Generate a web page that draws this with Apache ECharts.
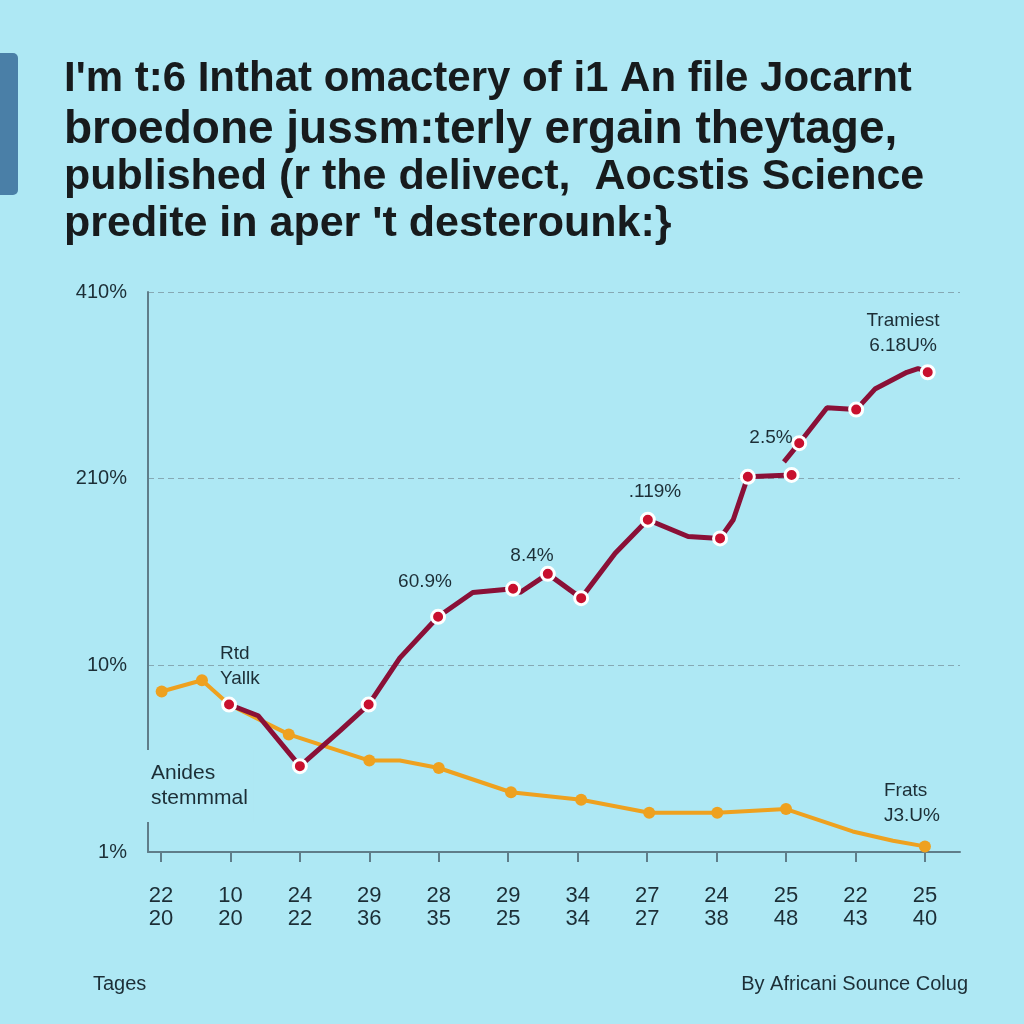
<!DOCTYPE html>
<html>
<head>
<meta charset="utf-8">
<script src="https://cdn.jsdelivr.net/npm/echarts@6/dist/echarts.min.js"></script>
<style>
html,body{margin:0;padding:0;background:#aee8f4;}
#chart{width:1024px;height:1024px;}
</style>
</head>
<body>
<div id="chart"></div>
<script>
// ---- data ----
const titleLines = [
  "I'm t:6 Inthat omactery of i1 An file Jocarnt",
  "broedone jussm:terly ergain theytage,",
  "published (r the delivect,  Aocstis Science",
  "predite in aper 't desterounk:}"
];
const xTopLabels = ["22","10","24","29","28","29","34","27","24","25","22","25"];
const xBottomLabels = ["20","20","22","36","35","25","34","27","38","48","43","40"];
const yTickLabels = ["1%","10%","210%","410%"];

// red series: [tick position, axis level]; null = break
const redX = [0.98,1.40,2.00,2.58,2.99,3.44,3.99,4.49,5.07,5.17,5.57,6.05,6.54,7.01,7.59,8.05,8.24,8.45,9.08,9.17,null,8.97,9.19,9.59,10.01,10.28,10.74,10.90,11.04];
const redY = [0.79,0.73,0.46,0.65,0.79,1.04,1.26,1.39,1.41,1.39,1.49,1.36,1.60,1.78,1.69,1.68,1.78,2.01,2.02,2.03,null,2.09,2.19,2.38,2.37,2.48,2.57,2.59,2.57];
const redMarked = [0,2,4,6,8,10,11,13,15,17,18,22,24,28];

const orangeX = [0.01,0.59,0.98,1.84,3.00,3.44,4.00,5.04,6.05,7.03,8.01,9.00,9.96,10.54,11.00];
const orangeY = [0.86,0.92,0.79,0.63,0.49,0.49,0.45,0.32,0.28,0.21,0.21,0.23,0.11,0.06,0.03];
const orangeMarked = [0,1,3,4,6,7,8,9,10,11,14];

const annotations = [
  {text:"Tramiest\n6.18U%", x:903, y:333, align:"center"},
  {text:"2.5%", x:771, y:438, align:"center"},
  {text:".119%", x:655, y:492, align:"center"},
  {text:"8.4%", x:532, y:556, align:"center"},
  {text:"60.9%", x:425, y:582, align:"center"},
  {text:"Rtd\nYallk", x:220, y:666, align:"left"},
  {text:"Frats\nJ3.U%", x:884, y:803, align:"left"}
];
const sideLabel = "Anides\nstemmmal";
const footerLeft = "Tages";
const footerRight = "By Africani Sounce Colug";

// ---- build ----
const ticks = xTopLabels.map((_, i) => i);
const redData = redX.map((x, i) => x === null ? [null, null] : [x, redY[i]]);
const orangeData = orangeX.map((x, i) => [x, orangeY[i]]);

const textColor = '#1c2e36';
const graphics = [
  {type:'rect', left:0, top:53, shape:{width:18, height:142, r:[0,5,5,0]}, style:{fill:'#4a7fa7'}, z:10}
];
const titleY = [79, 130, 177, 224];
const titleSize = [42, 46, 43, 43];
titleLines.forEach((t, i) => {
  graphics.push({type:'text', x:64, y:titleY[i], z:10,
    style:{text:t, font:'bold ' + titleSize[i] + 'px "Liberation Sans", Arial, sans-serif', fill:'#171b1d',
      align:'left', verticalAlign:'middle'}});
});
annotations.forEach(a => {
  graphics.push({type:'text', x:a.x, y:a.y, z:10,
    style:{text:a.text, fill:textColor, fontSize:19, lineHeight:25,
      fontFamily:'"Liberation Sans", Arial, sans-serif',
      align:a.align, verticalAlign:'middle'}});
});
graphics.push({type:'text', x:143, y:786, z:100,
  style:{text:sideLabel, fill:textColor, fontSize:21, lineHeight:25,
    fontFamily:'"Liberation Sans", Arial, sans-serif', align:'left', verticalAlign:'middle',
    backgroundColor:'#aee8f4', padding:[10,6,12,8]}});
graphics.push({type:'text', x:93, y:984, z:10,
  style:{text:footerLeft, fill:textColor, fontSize:20, fontFamily:'"Liberation Sans", Arial, sans-serif', align:'left', verticalAlign:'middle'}});
graphics.push({type:'text', x:968, y:984, z:10,
  style:{text:footerRight, fill:textColor, fontSize:20, fontFamily:'"Liberation Sans", Arial, sans-serif', align:'right', verticalAlign:'middle'}});

const chart = echarts.init(document.getElementById('chart'), null, {renderer:'canvas'});
chart.setOption({
  backgroundColor:'#aee8f4',
  animation:false,
  grid:{left:148, right:64, top:292, bottom:172},
  xAxis:{
    type:'value', min:-0.187, max:11.505,
    axisLine:{show:true, onZero:false, lineStyle:{color:'#5f7d89', width:2}},
    axisTick:{show:true, customValues:ticks, length:10, lineStyle:{color:'#5f7d89', width:2}},
    axisLabel:{show:true, customValues:ticks, margin:32, color:textColor, fontSize:22, lineHeight:23,
      fontFamily:'"Liberation Sans", Arial, sans-serif',
      formatter:v => { const i = Math.round(v); return xTopLabels[i] + '\n' + xBottomLabels[i]; }},
    splitLine:{show:false}
  },
  yAxis:{
    type:'value', min:0, max:3, interval:1,
    axisLine:{show:true, onZero:false, lineStyle:{color:'#5f7d89', width:2}},
    axisTick:{show:false},
    axisLabel:{color:textColor, fontSize:20, margin:21, fontFamily:'"Liberation Sans", Arial, sans-serif',
      formatter:v => yTickLabels[Math.round(v)]},
    splitLine:{show:true, lineStyle:{color:'#86a9b4', type:[6,4], width:1.2}}
  },
  series:[
    {
      type:'line', name:'orange', data:orangeData, z:2,
      lineStyle:{color:'#eea11f', width:4},
      itemStyle:{color:'#eea11f'},
      symbol:'circle',
      symbolSize:(v, p) => orangeMarked.includes(p.dataIndex) ? 12 : 0,
      showAllSymbol:true
    },
    {
      type:'line', name:'red', data:redData, z:3, connectNulls:false,
      lineStyle:{color:'#8a1037', width:5},
      itemStyle:{color:'#c8102e', borderColor:'#ffffff', borderWidth:3},
      symbol:'circle',
      symbolSize:(v, p) => redMarked.includes(p.dataIndex) ? 13 : 0,
      showAllSymbol:true
    }
  ],
  graphic:graphics
});
</script>
</body>
</html>
